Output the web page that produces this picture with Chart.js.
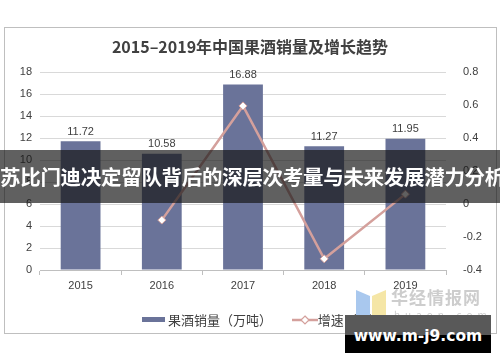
<!DOCTYPE html>
<html>
<head>
<meta charset="utf-8">
<script src="https://cdn.jsdelivr.net/npm/chart.js@4.4.1/dist/chart.umd.min.js"></script>
<style>
  body { margin: 0; background: #fff; }
  #wrap { position: relative; width: 500px; height: 362px; overflow: hidden; font-family: "Liberation Sans", Arial, sans-serif; }
  #frame { position: absolute; left: 4px; top: 27px; width: 491px; height: 305px; border: 1px solid #bfbfbf; }
  #the_chart { position: absolute; left: 0; top: 0; }
  #legend { position: absolute; top: 308px; left: 142px; font-family: "Noto Sans CJK SC", sans-serif; font-size: 13px; color: #404040; white-space: nowrap; }
  #legend span { display: inline-block; vertical-align: middle; }
  #logo { position: absolute; left: 356px; top: 286px; width: 140px; height: 40px; color: #cdcdcd; font-family: "Noto Sans CJK SC", sans-serif; white-space: nowrap; }
  #banner { position: absolute; left: 0; top: 150px; width: 500px; height: 53px; background: rgba(20,20,20,0.68); color: #fff; font-family: "Noto Sans CJK SC", sans-serif; font-weight: bold; font-size: 20.5px; line-height: 53px; text-align: center; white-space: nowrap; letter-spacing: -0.3px; }
  #wm { position: absolute; left: 345px; top: 315px; width: 146px; height: 38px; background: linear-gradient(#595959 0, #595959 20px, #000 20px); color: #fff; font-family: "DejaVu Sans", sans-serif; font-weight: bold; font-size: 15.5px; line-height: 43px; text-align: center; white-space: nowrap; }
</style>
</head>
<body>
<div id="wrap">
  <div id="frame"></div>
  <canvas id="the_chart" width="500" height="362"></canvas>
  <div id="legend">
    <span style="width:23px;height:5px;background:#6a7399;"></span><span>&nbsp;果酒销量（万吨）</span>
    <span style="width:14px;"></span>
    <span><svg width="26" height="10"><line x1="0" y1="5" x2="26" y2="5" stroke="#d4a09c" stroke-width="2.5"/><polygon points="13,1 17,5 13,9 9,5" fill="#fff" stroke="#d4a09c" stroke-width="1.2"/></svg></span><span>增速（%）</span>
  </div>
  <div id="logo">
    <svg width="30" height="34" style="position:absolute;left:0;top:2px"><polygon points="0,2 14,8 14,34 0,28" fill="#a9c8ee"/><polygon points="16,8 30,2 30,28 16,34" fill="#f5e6a6"/></svg>
    <div style="position:absolute;left:35px;top:-2px;font-size:17px;font-weight:bold;letter-spacing:1px;">华经情报网</div>
    <div style="position:absolute;left:38px;top:21px;font-size:10px;letter-spacing:5px;">huaon.com</div>
  </div>
  <div id="banner">苏比门迪决定留队背后的深层次考量与未来发展潜力分析</div>
  <div id="wm">www.m-j9.com</div>
</div>
<script>
// declare data
let years = ["2015", "2016", "2017", "2018", "2019"];
let sales = [11.72, 10.58, 16.88, 11.27, 11.95];
let growth = [null, -0.0973, 0.5955, -0.3323, 0.0603];
let leftTicks = [0, 2, 4, 6, 8, 10, 12, 14, 16, 18];
let rightTicks = [-0.4, -0.2, 0, 0.2, 0.4, 0.6, 0.8];

const barColor = "#6a7399";
const lineColor = "#d4a09c";

// draws the value above each bar (bar dataset is index 1)
const barLabels = {
    id: 'barLabels',
    afterDatasetsDraw(chart) {
        const ctx = chart.ctx;
        const meta = chart.getDatasetMeta(1);
        ctx.save();
        ctx.font = '11px "Liberation Sans", Arial, sans-serif';
        ctx.fillStyle = '#404040';
        ctx.textAlign = 'center';
        ctx.textBaseline = 'bottom';
        meta.data.forEach((bar, i) => {
            ctx.fillText(sales[i].toFixed(2), bar.x, bar.y - 4);
        });
        ctx.restore();
    }
};

new Chart(document.getElementById("the_chart"), {
    type: 'bar',
    data: {
        labels: years,
        datasets: [
            {
                type: 'line',
                label: '增速（%）',
                data: growth,
                yAxisID: 'y1',
                borderColor: lineColor,
                borderWidth: 2.5,
                pointStyle: 'rectRot',
                pointRadius: 4,
                pointBackgroundColor: '#fff',
                pointBorderColor: lineColor,
                pointBorderWidth: 1,
                spanGaps: false,
                order: 0
            },
            {
                label: '果酒销量（万吨）',
                data: sales,
                yAxisID: 'y',
                backgroundColor: barColor,
                categoryPercentage: 0.49,
                barPercentage: 1,
                order: 1
            }
        ]
    },
    options: {
        responsive: false,
        animation: false,
        layout: { padding: { left: 0, right: 0, top: 0, bottom: 62 } },
        plugins: {
            legend: { display: false },
            tooltip: { enabled: false },
            title: {
                display: true,
                text: '2015–2019年中国果酒销量及增长趋势',
                color: '#404040',
                font: { family: '"Noto Sans CJK SC", sans-serif', size: 16, weight: 'bold' },
                padding: { top: 37, bottom: 16 }
            }
        },
        scales: {
            x: {
                offset: true,
                grid: { display: true, drawOnChartArea: false, drawTicks: true, tickLength: 5, color: '#bfbfbf', offset: true },
                border: { display: true, color: '#bfbfbf' },
                ticks: { color: '#404040', font: { family: '"Liberation Sans", Arial, sans-serif', size: 11 }, padding: 4 },
                afterFit: s => { s.height = 30; }
            },
            y: {
                position: 'left',
                min: 0, max: 18,
                afterBuildTicks: s => { s.ticks = leftTicks.map(v => ({ value: v })); },
                grid: { color: '#d9d9d9', drawTicks: false },
                border: { display: false },
                ticks: { color: '#404040', font: { family: '"Liberation Sans", Arial, sans-serif', size: 11 }, padding: 8 },
                afterFit: s => { s.width = 40; }
            },
            y1: {
                position: 'right',
                min: -0.4, max: 0.8,
                afterBuildTicks: s => { s.ticks = rightTicks.map(v => ({ value: v })); },
                grid: { display: false },
                border: { display: false },
                ticks: { color: '#404040', font: { family: '"Liberation Sans", Arial, sans-serif', size: 11 }, padding: 9,
                    callback: v => Math.abs(v) < 1e-9 ? '0' : Number(v.toFixed(1)).toString() },
                afterFit: s => { s.width = 54; }
            }
        }
    },
    plugins: [barLabels]
});
</script>
</body>
</html>
